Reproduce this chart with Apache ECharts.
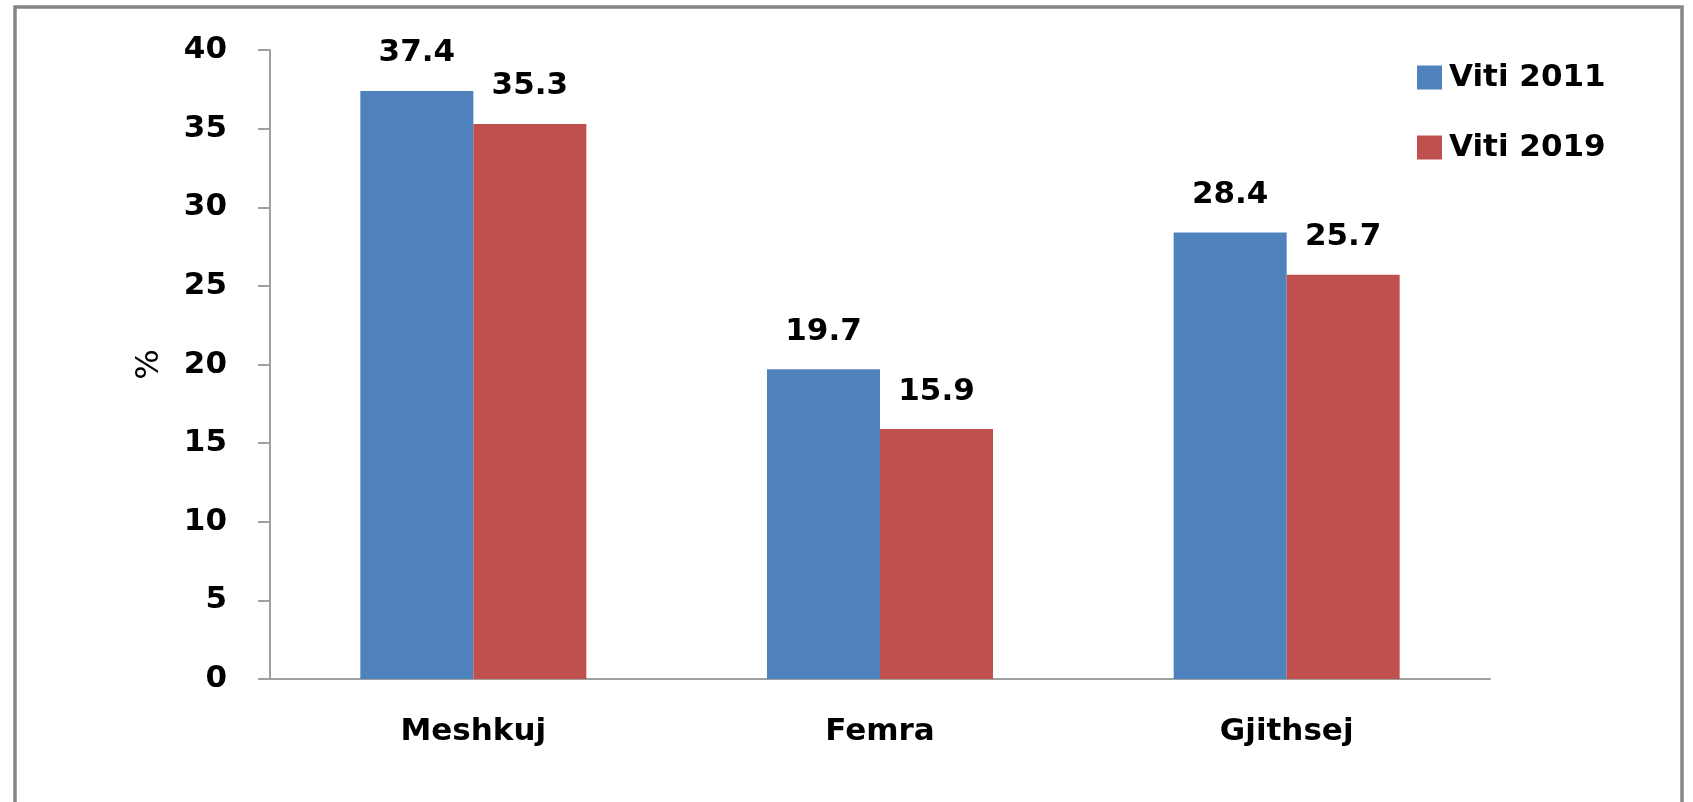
<!DOCTYPE html>
<html>
<head>
<meta charset="utf-8">
<script src="https://cdn.jsdelivr.net/npm/echarts@6/dist/echarts.min.js"></script>
<style>
html,body{margin:0;padding:0;background:#fff;}
#chart{width:1693px;height:802px;}
</style>
</head>
<body>
<div id="chart"></div>
<script>
// te dhenat
var categories = ['Meshkuj', 'Femra', 'Gjithsej'];
var viti2011 = [37.4, 19.7, 28.4];
var viti2019 = [35.3, 15.9, 25.7];
var yTicks = [0, 5, 10, 15, 20, 25, 30, 35, 40];

var font = 'DejaVu Sans';
var chart = echarts.init(document.getElementById('chart'));

var labelStyle = {
    show: true, position: 'top', distance: 22,
    fontFamily: font, fontWeight: 'bold', fontSize: 31, color: '#000'
};

chart.setOption({
    animation: false,
    backgroundColor: '#fff',
    graphic: [{
        type: 'rect', silent: true, z: -1,
        shape: {x: 15, y: 7, width: 1667, height: 900},
        style: {fill: 'none', stroke: '#868686', lineWidth: 3.5}
    }],
    grid: {left: 270, right: 203, top: 50, bottom: 123},
    legend: {
        orient: 'vertical', left: 1417, top: 62, padding: 0,
        itemWidth: 25, itemHeight: 24, itemGap: 39,
        icon: 'rect',
        textStyle: {fontFamily: font, fontWeight: 'bold', fontSize: 31, color: '#000', padding: [0, 0, 0, 2]},
        data: ['Viti 2011', 'Viti 2019']
    },
    xAxis: {
        type: 'category', data: categories,
        axisLine: {lineStyle: {color: '#a0a0a0', width: 2}},
        axisTick: {show: false},
        axisLabel: {fontFamily: font, fontWeight: 'bold', fontSize: 31, color: '#000', margin: 37}
    },
    yAxis: {
        type: 'value', min: yTicks[0], max: yTicks[yTicks.length - 1], interval: 5,
        name: '%', nameLocation: 'middle', nameGap: 104, nameRotate: 90,
        nameTextStyle: {fontFamily: font, fontSize: 32, color: '#000'},
        axisLine: {show: true, lineStyle: {color: '#a0a0a0', width: 2}},
        axisTick: {show: true, length: 12, lineStyle: {color: '#a0a0a0', width: 2}},
        splitLine: {show: false},
        axisLabel: {fontFamily: font, fontWeight: 'bold', fontSize: 31, color: '#000', margin: 43}
    },
    series: [{
        name: 'Viti 2011', type: 'bar', data: viti2011,
        barWidth: 113, barGap: '0%',
        itemStyle: {color: '#4F81BD'},
        label: labelStyle
    }, {
        name: 'Viti 2019', type: 'bar', data: viti2019,
        barWidth: 113, barGap: '0%',
        itemStyle: {color: '#C0504D'},
        label: labelStyle
    }]
});
</script>
</body>
</html>
